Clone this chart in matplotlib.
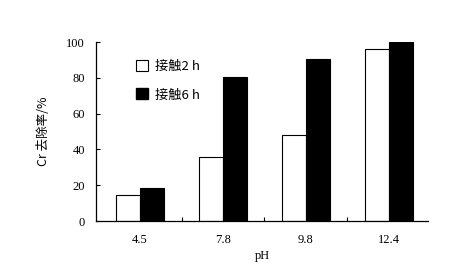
import matplotlib
matplotlib.use("Agg")
import matplotlib.pyplot as plt
from matplotlib.patches import Patch
import numpy as np

categories = ["4.5", "7.8", "9.8", "12.4"]
contact_2h = [14.5, 35.7, 48.0, 96.3]
contact_6h = [18.4, 80.4, 90.5, 99.8]
series_labels = ["接触2 h", "接触6 h"]

plt.rcParams['font.family'] = ['Liberation Serif', 'Noto Sans CJK SC', 'DejaVu Sans']

fig = plt.figure(figsize=(4.62, 2.73), dpi=100)
ax = fig.add_axes([0.208, 0.19, 0.718, 0.656])

x = np.arange(len(categories))
w = 0.29
ax.bar(x - w/2, contact_2h, w, color='white', edgecolor='black', linewidth=0.8)
ax.bar(x + w/2, contact_6h, w, color='black', edgecolor='black', linewidth=0.8)

ax.set_xlim(-0.53, 3.47)
ax.set_ylim(0, 100)
ax.set_yticks([0, 20, 40, 60, 80, 100])
ax.set_xticks(x)
ax.set_xticklabels(categories, fontsize=9)
ax.set_xticks([0.5, 1.5, 2.5], minor=True)
ax.tick_params(axis='x', which='major', length=0, pad=9)
ax.tick_params(axis='x', which='minor', direction='in', length=3, width=0.8)
ax.tick_params(axis='y', direction='in', length=3, width=0.8, labelsize=9, pad=8)
for s in ['top', 'right']:
    ax.spines[s].set_visible(False)
for s in ['left', 'bottom']:
    ax.spines[s].set_linewidth(0.9)

ax.set_xlabel("pH", fontsize=9, labelpad=3)
ax.set_ylabel("Cr 去除率/%", fontsize=9, family=['Noto Sans CJK SC', 'DejaVu Sans'], labelpad=12)

handles = [Patch(facecolor='white', edgecolor='black', linewidth=0.8),
           Patch(facecolor='black', edgecolor='black')]
ax.legend(handles, series_labels, loc='upper left', bbox_to_anchor=(0.085, 0.965),
          frameon=False, handlelength=0.9, handleheight=0.9, handletextpad=0.5,
          labelspacing=1.15, prop={'family': ['Noto Sans CJK SC', 'DejaVu Sans'], 'size': 9.5})

fig.savefig("out.png", dpi=100)
